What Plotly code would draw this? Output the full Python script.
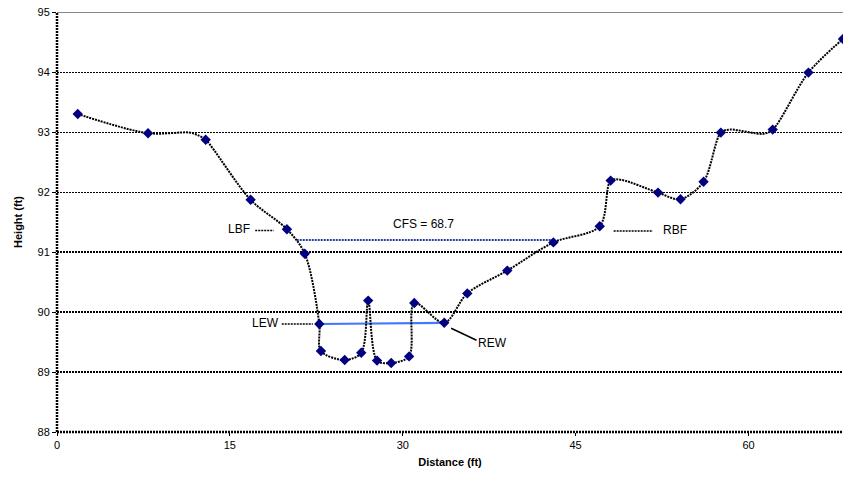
import plotly.graph_objects as go

# Surveyed cross-section points (station, elevation)
distance = [1.8, 7.9, 12.9, 16.8, 19.95, 21.5, 22.76, 22.9, 24.96, 26.4, 27.0, 27.77,
            29.0, 30.55, 31.0, 33.6, 35.6, 39.07, 43.07, 47.09, 48.04, 52.15, 54.1,
            56.1, 57.6, 62.1, 65.2, 68.2]
height = [93.3, 92.98, 92.87, 91.87, 91.38, 90.97, 89.8, 89.35, 89.2, 89.32, 90.19, 89.19,
          89.15, 89.26, 90.15, 89.82, 90.31, 90.69, 91.16, 91.43, 92.19, 91.99, 91.88,
          92.17, 92.99, 93.04, 93.99, 94.55]

# Ground profile traced between survey shots (unmarked breaks included)
profile_x = [1.8, 7.9, 11.5, 12.3, 12.9, 16.8, 19.95, 21.5, 22.76, 22.9, 24.96, 26.4,
             27.0, 27.77, 29.0, 30.55, 31.0, 33.6, 35.6, 39.07, 43.07, 47.09, 48.04,
             49.0, 52.15, 54.1, 56.1, 57.6, 58.4, 61.3, 62.1, 65.2, 68.2]
profile_y = [93.3, 92.98, 92.99, 92.94, 92.87, 91.87, 91.38, 90.97, 89.8, 89.35, 89.2, 89.32,
             90.19, 89.19, 89.15, 89.26, 90.15, 89.82, 90.31, 90.69, 91.16, 91.43, 92.19,
             92.2, 91.99, 91.88, 92.17, 92.99, 93.04, 92.97, 93.04, 93.99, 94.55]

# Bankfull line (LBF to RBF) and water-edge line (LEW to REW)
bankfull_x = [20.8, 43.07]
bankfull_y = [91.2, 91.2]
water_x = [22.76, 33.6]
water_y = [89.8, 89.82]

x_ticks = [0, 15, 30, 45, 60]
y_ticks = [88, 89, 90, 91, 92, 93, 94, 95]
x_max = 68.2

FONT = "Arial, Liberation Sans, sans-serif"

fig = go.Figure()

fig.add_trace(go.Scatter(
    x=bankfull_x, y=bankfull_y, mode="lines",
    line=dict(color="#2a3aaa", width=2, dash="2px,1px"), hoverinfo="skip"))
fig.add_trace(go.Scatter(
    x=water_x, y=water_y, mode="lines",
    line=dict(color="#4477ff", width=2.2), hoverinfo="skip"))

fig.add_trace(go.Scatter(
    x=profile_x, y=profile_y, mode="lines",
    line=dict(color="black", width=2, dash="2px,1px", shape="spline", smoothing=0.9),
    hoverinfo="skip"))
fig.add_trace(go.Scatter(
    x=distance, y=height, mode="markers",
    marker=dict(symbol="diamond", size=8, color="#000080")))

shapes = []
# heavier dotted gridlines near the channel bed
for yv in [89, 90, 91]:
    shapes.append(dict(type="line", xref="x", yref="y", x0=0, x1=x_max, y0=yv, y1=yv,
                       line=dict(color="black", width=2, dash="2px,1px"), layer="below"))
# top border in grey
shapes.append(dict(type="line", xref="x", yref="y", x0=0, x1=x_max, y0=95, y1=95,
                   line=dict(color="#888888", width=2), layer="below"))
# axis lines
shapes.append(dict(type="line", xref="paper", yref="paper", x0=0, x1=1, y0=0, y1=0,
                   line=dict(color="black", width=2.5, dash="2px,1px")))
shapes.append(dict(type="line", xref="paper", yref="paper", x0=0, x1=0, y0=0, y1=1,
                   line=dict(color="black", width=2.5, dash="2px,1px")))
# label leaders
shapes.append(dict(type="line", xref="x", yref="y", x0=17.2, x1=18.8, y0=91.36, y1=91.36,
                   line=dict(color="black", width=1.5, dash="2px,1px")))
shapes.append(dict(type="line", xref="x", yref="y", x0=48.3, x1=51.7, y0=91.35, y1=91.35,
                   line=dict(color="black", width=1.5, dash="2px,1px")))
shapes.append(dict(type="line", xref="x", yref="y", x0=19.5, x1=22.2, y0=89.8, y1=89.8,
                   line=dict(color="black", width=1.5, dash="2px,1px")))
shapes.append(dict(type="line", xref="x", yref="y", x0=34.2, x1=36.4, y0=89.73, y1=89.53,
                   line=dict(color="black", width=1.5)))

annotations = [
    dict(x=15.75, y=91.38, text="LBF"),
    dict(x=52.4, y=91.37, text="RBF", xanchor="left"),
    dict(x=31.8, y=91.47, text="CFS = 68.7"),
    dict(x=18.1, y=89.81, text="LEW"),
    dict(x=37.8, y=89.49, text="REW"),
]
for a in annotations:
    a.update(xref="x", yref="y", showarrow=False,
             font=dict(family=FONT, size=12, color="black"))

fig.update_layout(
    width=845, height=482,
    margin=dict(l=57, r=2, t=12, b=50),
    paper_bgcolor="white", plot_bgcolor="white",
    showlegend=False,
    font=dict(family=FONT, size=11, color="black"),
    shapes=shapes, annotations=annotations,
    xaxis=dict(range=[0, x_max], tickvals=x_ticks, showgrid=False, zeroline=False,
               ticks="outside", ticklen=3, tickcolor="black", showline=False,
               title=dict(text="<b>Distance (ft)</b>", font=dict(size=11), standoff=8),
               tickfont=dict(size=11)),
    yaxis=dict(range=[88, 95], tickvals=y_ticks, showgrid=True, gridcolor="black",
               griddash="2px,1px", gridwidth=1, zeroline=False,
               ticks="outside", ticklen=4, tickcolor="black", showline=False,
               title=dict(text="<b>Height (ft)</b>", font=dict(size=11), standoff=12),
               tickfont=dict(size=11)),
)

fig.write_html("out.html")
